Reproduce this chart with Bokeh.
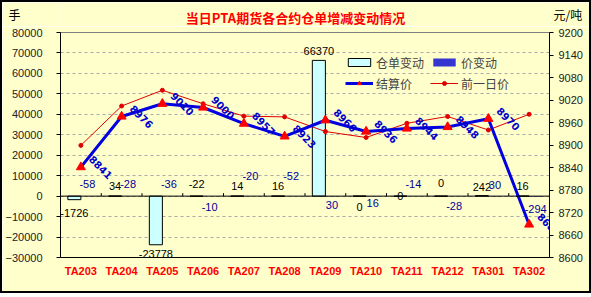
import math
from bokeh.plotting import figure
from bokeh.layouts import column
from bokeh.models import (ColumnDataSource, FactorRange, Range1d, LinearAxis, FixedTicker,
                          Legend, LegendItem, Label, Span)
from bokeh.transform import dodge
from bokeh.embed import file_html
from bokeh.resources import INLINE
from bokeh.core.properties import value

# ---------------- data ----------------
contracts = ["TA203", "TA204", "TA205", "TA206", "TA207", "TA208",
             "TA209", "TA210", "TA211", "TA212", "TA301", "TA302"]
stock_change = [-1726, 34, -23778, -22, 14, 16, 66370, 0, 0, 0, 242, 16]
price_change = [-58, -28, -36, -10, -20, -52, 30, 16, -14, -28, 30, -294]
settle_price = [8841, 8976, 9010, 9000, 8957, 8923, 8966, 8936, 8944, 8948, 8970, 8688]
prev_price = [8899, 9004, 9046, 9010, 8977, 8975, 8936, 8920, 8958, 8976, 8940, 8982]
left_ticks = list(range(-30000, 80001, 10000))
right_ticks = list(range(8600, 9201, 60))

title_text = "当日PTA期货各合约仓单增减变动情况"
left_unit = "手"
right_unit = "元/吨"

# label pixel offsets (screen, downward positive)
stock_label_dy = [13, -10, 9, -12, -10, -10, -9, 11, 0, -13, -9, -10]
price_label_dy = [-12, -12, -12, 11, -20, -20, 9, 7, -12, 10, -11, 12]

# ---------------- layout ----------------
W = 587
HEAD_H = 24
H = 265
ML, MR, MT, MB = 58, 40, 6, 34
FRAME_H = H - MT - MB
LEFT_LO, LEFT_HI = -30000, 80000
ZERO_TICK = 3 * (LEFT_HI - LEFT_LO) / FRAME_H

BG = "#FFFFCC"
NUM_FONT = "Liberation Sans"
CJK_FONT = "Noto Sans CJK SC"

# ---------------- header (title + units) ----------------
head = figure(width=W, height=HEAD_H, x_range=Range1d(0, 1), y_range=Range1d(0, 1),
              output_backend="svg", toolbar_location=None,
              x_axis_location=None, y_axis_location="left",
              min_border_left=ML, min_border_right=MR, min_border_top=0, min_border_bottom=0)
head.background_fill_color = BG
head.border_fill_color = BG
head.outline_line_color = None
head.grid.visible = False


def unit_axis(ax, label, standoff):
    ax.ticker = FixedTicker(ticks=[])
    ax.axis_line_color = None
    ax.major_tick_line_color = None
    ax.minor_tick_line_color = None
    ax.major_tick_out = 0
    ax.major_tick_in = 0
    ax.minor_tick_out = 0
    ax.major_label_standoff = 0
    ax.axis_label = label
    ax.axis_label_orientation = "horizontal"
    ax.axis_label_standoff = standoff
    ax.axis_label_text_font = CJK_FONT
    ax.axis_label_text_font_size = "12px"
    ax.axis_label_text_font_style = "normal"
    ax.axis_label_text_color = "black"


unit_axis(head.yaxis[0], left_unit, 40)
hr = LinearAxis()
unit_axis(hr, right_unit, 4)
head.add_layout(hr, "right")

head.add_layout(Label(x=235, y=9.5, x_units="screen", y_units="screen",
                      text=title_text, text_align="center",
                      text_baseline="middle", text_color="#FF0000", text_font=CJK_FONT,
                      text_font_style="bold", text_font_size="13px"))

# ---------------- main chart ----------------
src = ColumnDataSource(dict(
    cat=contracts, stock=stock_change, price=price_change,
    settle=settle_price, prev=prev_price,
    stock_lbl=[str(v) for v in stock_change],
    price_lbl=[str(v) for v in price_change],
    settle_lbl=[str(v) for v in settle_price],
    stock_dy=stock_label_dy, price_dy=price_label_dy,
))

p = figure(width=W, height=H, x_range=FactorRange(*contracts),
           y_range=Range1d(LEFT_LO, LEFT_HI),
           output_backend="svg", toolbar_location=None,
           min_border_left=ML, min_border_right=MR, min_border_top=MT, min_border_bottom=MB)
p.extra_y_ranges = {"price": Range1d(8600, 9200)}
p.background_fill_color = BG
p.border_fill_color = BG
p.outline_line_color = "#808080"

# grid
p.xgrid.visible = False
p.ygrid.ticker = FixedTicker(ticks=left_ticks)
p.ygrid.grid_line_color = "#A8A8A8"
p.ygrid.grid_line_dash = "3 3"

# left axis
la = p.yaxis[0]
la.ticker = FixedTicker(ticks=left_ticks)
la.axis_line_color = "black"
la.major_tick_line_color = "black"
la.major_tick_out = 4
la.major_tick_in = 0
la.minor_tick_line_color = None
la.major_label_standoff = 14
la.major_label_text_font = NUM_FONT
la.major_label_text_font_size = "11px"
la.major_label_text_color = "#222222"

# right axis
ra = LinearAxis(y_range_name="price", ticker=FixedTicker(ticks=right_ticks))
ra.axis_line_color = "black"
ra.major_tick_line_color = "black"
ra.major_tick_out = 4
ra.major_tick_in = 0
ra.minor_tick_line_color = None
ra.major_label_standoff = 5
ra.major_label_text_font = NUM_FONT
ra.major_label_text_font_size = "11px"
ra.major_label_text_color = "#222222"
p.add_layout(ra, "right")

# bottom axis
xa = p.xaxis[0]
xa.axis_line_color = "black"
xa.major_tick_line_color = None
xa.major_tick_out = 0
xa.major_tick_in = 0
xa.major_label_standoff = 7
xa.major_label_text_font = NUM_FONT
xa.major_label_text_font_style = "bold"
xa.major_label_text_font_size = "11px"
xa.major_label_text_color = "#FF0000"

# zero line with category ticks
p.add_layout(Span(location=0, dimension="width", line_color="black", line_width=1))
p.segment(x0=dodge("cat", 0.5, range=p.x_range), y0=0,
          x1=dodge("cat", 0.5, range=p.x_range), y1=ZERO_TICK,
          source=src, line_color="black", line_width=1)

# bars
b1 = p.vbar(x=dodge("cat", -0.16, range=p.x_range), top="stock", bottom=0, width=0.32,
            source=src, fill_color="#CCFFFF", line_color="black", line_width=1)
b2 = p.vbar(x=dodge("cat", 0.16, range=p.x_range), top="price", bottom=0, width=0.32,
            source=src, fill_color="#3535D0", line_color=None)

# lines
l_prev = p.line("cat", "prev", source=src, y_range_name="price", line_color="#E00000", line_width=1)
s_prev = p.scatter("cat", "prev", source=src, y_range_name="price", marker="circle", size=4,
                   fill_color="#E00000", line_color="#E00000")
l_set = p.line("cat", "settle", source=src, y_range_name="price", line_color="#0000E0", line_width=3)
s_set = p.scatter("cat", "settle", source=src, y_range_name="price", marker="triangle", size=9,
                  fill_color="#FF0000", line_color="#FF0000")

# data labels
p.text(x="cat", y="settle", text="settle_lbl", source=src, y_range_name="price",
       x_offset=20, angle=-math.pi / 4, text_align="center", text_baseline="middle",
       text_font=value("DejaVu Sans"), text_font_style="bold", text_font_size="10px",
       text_color="#0000CC")
p.text(x=dodge("cat", -0.16, range=p.x_range), y="stock", text="stock_lbl", source=src,
       y_offset="stock_dy", text_align="center", text_baseline="middle",
       text_font=value(NUM_FONT), text_font_size="11px", text_color="black")
p.text(x=dodge("cat", 0.16, range=p.x_range), y="price", text="price_lbl", source=src,
       y_offset="price_dy", text_align="center", text_baseline="middle",
       text_font=value(NUM_FONT), text_font_size="11px", text_color="#000099")

# legend (column-major fill: col1 = 仓单变动/结算价, col2 = 价变动/前一日价)
legend = Legend(items=[
    LegendItem(label="仓单变动", renderers=[b1]),
    LegendItem(label="结算价", renderers=[l_set, s_set]),
    LegendItem(label="价变动", renderers=[b2]),
    LegendItem(label="前一日价", renderers=[l_prev, s_prev]),
], location=(285, 165), ncols=2, padding=0, margin=0, spacing=3,
    glyph_width=28, glyph_height=10, label_height=18, label_width=51, label_standoff=3,
    background_fill_alpha=0, border_line_alpha=0,
    label_text_font=CJK_FONT, label_text_font_size="12px")
p.add_layout(legend)

layout = column(head, p, spacing=0, styles={"border": "2px solid black"})

open("out.html", "w").write(file_html(layout, INLINE))
